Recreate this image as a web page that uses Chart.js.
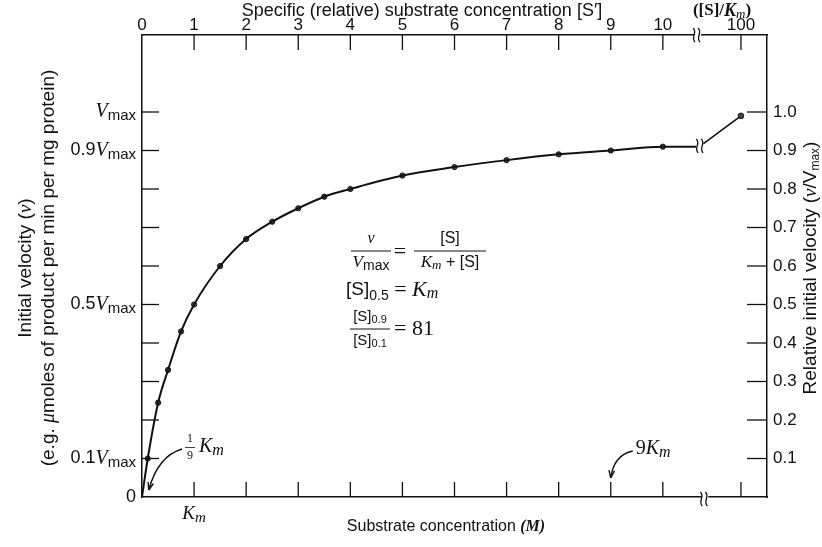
<!DOCTYPE html>
<html>
<head>
<meta charset="utf-8">
<script src="https://cdn.jsdelivr.net/npm/chart.js@4.4.1/dist/chart.umd.min.js"></script>
<style>
  body { margin: 0; background: #fff; }
  #wrap { width: 822px; height: 547px; }
</style>
</head>
<body>
<div id="wrap"><canvas id="chart" width="822" height="547"></canvas></div>
<script>
// measured points: specific substrate concentration [S]/Km vs v/Vmax
const sConc = [0.11, 0.31, 0.5, 0.75, 1, 1.5, 2, 2.5, 3, 3.5, 4, 5, 6, 7, 8, 9, 10];
const relVel = [0.10, 0.245, 0.33, 0.43, 0.50, 0.60, 0.67, 0.715, 0.75, 0.78, 0.80, 0.835, 0.857, 0.875, 0.89, 0.90, 0.91];
const farConc = [100];
const farVel = [0.99];

const topTickValues = [0, 1, 2, 3, 4, 5, 6, 7, 8, 9, 10, 100];
const topTickLabels = ['0', '1', '2', '3', '4', '5', '6', '7', '8', '9', '10', '100'];
const rightTickValues = [0.1, 0.2, 0.3, 0.4, 0.5, 0.6, 0.7, 0.8, 0.9, 1.0];
const rightTickLabels = ['0.1', '0.2', '0.3', '0.4', '0.5', '0.6', '0.7', '0.8', '0.9', '1.0'];
const leftLabelValues = [0, 0.1, 0.5, 0.9, 1.0];
const leftLabelCoefs = ['0', '0.1', '0.5', '0.9', ''];

// broken axis: everything past the break sits at 11.5
const axisPos = s => (s > 10.5 ? 11.5 : s);

const SANS = '"Liberation Sans", Arial, sans-serif';
const SERIF = '"Liberation Serif", "DejaVu Serif", serif';
const INK = '#111';

const curvePts = [{ x: 0, y: 0 }].concat(sConc.map((s, i) => ({ x: axisPos(s), y: relVel[i] })));
curvePts.push({ x: 10.64, y: relVel[relVel.length - 1] });
const markerPts = sConc.map((s, i) => ({ x: axisPos(s), y: relVel[i] }));
const tailPts = [{ x: 10.78, y: 0.918 }].concat(farConc.map((s, i) => ({ x: axisPos(s), y: farVel[i] })));

function rich(ctx, parts, x, y, align) {
  let w = 0;
  parts.forEach(p => { ctx.font = p[1]; w += ctx.measureText(p[0]).width; });
  let cx = align === 'right' ? x - w : align === 'center' ? x - w / 2 : x;
  ctx.textAlign = 'left';
  ctx.textBaseline = 'middle';
  parts.forEach(p => {
    ctx.font = p[1];
    ctx.fillText(p[0], cx, y + (p[2] || 0));
    cx += ctx.measureText(p[0]).width;
  });
  return w;
}

function breakMark(ctx, x, y, h) {
  // two little wavy strokes
  [0, 5].forEach(dx => {
    ctx.beginPath();
    ctx.moveTo(x + dx - 1, y - h / 2);
    ctx.bezierCurveTo(x + dx + 4, y - h / 6, x + dx - 4, y + h / 6, x + dx + 1, y + h / 2);
    ctx.stroke();
  });
}

function arrowHead(ctx, x, y, ang) {
  ctx.beginPath();
  ctx.moveTo(x, y);
  ctx.lineTo(x - 8 * Math.cos(ang - 0.35), y - 8 * Math.sin(ang - 0.35));
  ctx.moveTo(x, y);
  ctx.lineTo(x - 8 * Math.cos(ang + 0.35), y - 8 * Math.sin(ang + 0.35));
  ctx.stroke();
}

function fraction(ctx, top, bottom, cx, y, barW) {
  rich(ctx, top, cx, y - 12, 'center');
  rich(ctx, bottom, cx, y + 12, 'center');
  ctx.beginPath();
  ctx.moveTo(cx - barW / 2, y);
  ctx.lineTo(cx + barW / 2, y);
  ctx.stroke();
}

const decorations = {
  id: 'decorations',
  afterDraw(chart) {
    const ctx = chart.ctx;
    const xs = chart.scales.x, ys = chart.scales.y;
    const a = chart.chartArea;
    ctx.save();
    ctx.strokeStyle = INK;
    ctx.fillStyle = INK;
    ctx.lineWidth = 1.3;

    // inward ticks
    topTickValues.forEach(v => {
      if (v === 0) return;
      const px = xs.getPixelForValue(axisPos(v));
      ctx.beginPath(); ctx.moveTo(px, a.top); ctx.lineTo(px, a.top + 15); ctx.stroke();
      ctx.beginPath(); ctx.moveTo(px, a.bottom); ctx.lineTo(px, a.bottom - 15); ctx.stroke();
    });
    rightTickValues.forEach(v => {
      const py = ys.getPixelForValue(v);
      ctx.beginPath(); ctx.moveTo(a.left, py); ctx.lineTo(a.left + 17, py); ctx.stroke();
      ctx.beginPath(); ctx.moveTo(a.right, py); ctx.lineTo(a.right - 20, py); ctx.stroke();
    });

    // break marks on both axes and the curve
    ctx.fillStyle = '#fff';
    ctx.fillRect(xs.getPixelForValue(10.6), a.top - 2, 7, 4);
    ctx.fillRect(xs.getPixelForValue(10.74), a.bottom - 2, 7, 4);
    ctx.fillStyle = INK;
    breakMark(ctx, xs.getPixelForValue(10.6), a.top, 14);
    breakMark(ctx, xs.getPixelForValue(10.74), a.bottom + 2, 14);
    breakMark(ctx, xs.getPixelForValue(10.66), ys.getPixelForValue(0.912), 14);

    // top tick labels
    ctx.font = '17px ' + SANS;
    ctx.textAlign = 'center';
    ctx.textBaseline = 'middle';
    topTickValues.forEach((v, i) => {
      ctx.fillText(topTickLabels[i], xs.getPixelForValue(axisPos(v)), 25);
    });

    // right tick labels
    ctx.textAlign = 'left';
    rightTickValues.forEach((v, i) => {
      ctx.fillText(rightTickLabels[i], a.right + 6, ys.getPixelForValue(v));
    });

    // left tick labels with V_max
    leftLabelValues.forEach((v, i) => {
      const py = ys.getPixelForValue(v);
      const c = leftLabelCoefs[i];
      if (c === '0') {
        rich(ctx, [['0', '18px ' + SANS]], a.left - 6, py, 'right');
      } else {
        rich(ctx, [[c, '18px ' + SANS], ['V', 'italic 20px ' + SERIF], ['max', '15px ' + SANS, 4]], a.left - 6, py, 'right');
      }
    });

    // axis titles
    rich(ctx, [['Specific (relative) substrate concentration [S\u2032]', '18px ' + SANS]], 422, 11, 'center');
    rich(ctx, [['([S]/', 'bold 17px ' + SERIF], ['K', 'italic bold 18px ' + SERIF], ['m', 'italic 13px ' + SERIF, 4], [')', 'bold 17px ' + SERIF]], 722, 11, 'center');
    rich(ctx, [['Substrate concentration ', '16px ' + SANS], ['(M)', 'italic bold 16px ' + SERIF]], 446, 527, 'center');
    rich(ctx, [['K', 'italic 19px ' + SERIF], ['m', 'italic 15px ' + SERIF, 4]], xs.getPixelForValue(1), 514, 'center');

    ctx.save();
    ctx.translate(26, 268);
    ctx.rotate(-Math.PI / 2);
    rich(ctx, [['Initial velocity (', '19px ' + SANS], ['v', 'italic 19px ' + SERIF], [')', '19px ' + SANS]], 0, 0, 'center');
    rich(ctx, [['(e.g. ', '19px ' + SANS], ['\u03bc', 'italic 20px ' + SERIF], ['moles of product per min per mg protein)', '19px ' + SANS]], 0, 23, 'center');
    ctx.restore();

    ctx.save();
    ctx.translate(811, 268);
    ctx.rotate(-Math.PI / 2);
    rich(ctx, [['Relative initial velocity (', '19px ' + SANS], ['v', 'italic 19px ' + SERIF], ['/V', '19px ' + SANS], ['max', '12px ' + SANS, 5], [')', '19px ' + SANS]], 0, 0, 'center');
    ctx.restore();

    // equations
    ctx.lineWidth = 1;
    fraction(ctx, [['v', 'italic 16px ' + SERIF]], [['V', 'italic 17px ' + SERIF], ['max', '14px ' + SANS, 3]], 371, 251, 40);
    rich(ctx, [['=', '22px ' + SERIF]], 400, 252, 'center');
    fraction(ctx, [['[S]', '16px ' + SANS]], [['K', 'italic 17px ' + SERIF], ['m', 'italic 13px ' + SERIF, 3], [' + [S]', '16px ' + SANS]], 450, 251, 72);
    rich(ctx, [['[S]', '19px ' + SANS], ['0.5', '14px ' + SANS, 6], [' = ', '22px ' + SERIF], ['K', 'italic 22px ' + SERIF], ['m', 'italic 16px ' + SERIF, 4]], 346, 290, 'left');
    fraction(ctx, [['[S]', '15px ' + SANS], ['0.9', '11px ' + SANS, 3]], [['[S]', '15px ' + SANS], ['0.1', '11px ' + SANS, 3]], 370, 329, 40);
    rich(ctx, [['= 81', '22px ' + SERIF]], 394, 329, 'left');

    // annotations with arrows
    ctx.lineWidth = 1.4;
    ctx.font = '12px ' + SERIF;
    ctx.textAlign = 'center';
    ctx.fillText('1', 190, 439);
    ctx.fillText('9', 190, 456);
    ctx.beginPath(); ctx.moveTo(185, 447.5); ctx.lineTo(195, 447.5); ctx.lineWidth = 0.8; ctx.stroke();
    rich(ctx, [['K', 'italic 20px ' + SERIF], ['m', 'italic 16px ' + SERIF, 4]], 199, 447, 'left');
    ctx.lineWidth = 1.4;
    const ox = xs.getPixelForValue(0.11), oy = ys.getPixelForValue(0);
    ctx.beginPath();
    ctx.moveTo(182, 449);
    ctx.quadraticCurveTo(158, 456, ox + 1, oy - 7);
    ctx.stroke();
    arrowHead(ctx, ox + 1, oy - 7, Math.atan2(oy - 7 - 456, ox + 1 - 158));

    const nx = xs.getPixelForValue(9), ny = ys.getPixelForValue(0) - 19;
    rich(ctx, [['9', '20px ' + SERIF], ['K', 'italic 20px ' + SERIF], ['m', 'italic 16px ' + SERIF, 4]], nx + 25, 449, 'left');
    ctx.beginPath();
    ctx.moveTo(nx + 22, 451);
    ctx.quadraticCurveTo(nx + 3, 455, nx, ny);
    ctx.stroke();
    arrowHead(ctx, nx, ny, Math.atan2(ny - 455, nx - (nx + 3)));

    ctx.restore();
  }
};

const noScale = (size, horizontal) => ({
  type: 'linear',
  ticks: { display: false },
  grid: { display: false },
  border: { display: true, color: INK, width: 1.5 },
  afterFit(scale) { if (horizontal) scale.height = size; else scale.width = size; }
});

new Chart(document.getElementById('chart'), {
  type: 'line',
  data: {
    datasets: [
      {
        data: curvePts,
        borderColor: INK,
        borderWidth: 2,
        pointRadius: 0,
        cubicInterpolationMode: 'monotone',
        fill: false
      },
      {
        data: markerPts,
        showLine: false,
        pointRadius: 2.6,
        pointBackgroundColor: '#444',
        pointBorderColor: INK,
        pointBorderWidth: 1
      },
      {
        data: tailPts,
        borderColor: INK,
        borderWidth: 1.6,
        pointRadius: [0, 2.8],
        pointBackgroundColor: '#444',
        pointBorderColor: INK,
        pointBorderWidth: 1
      }
    ]
  },
  options: {
    responsive: false,
    animation: false,
    layout: { padding: 0 },
    plugins: { legend: { display: false }, tooltip: { enabled: false } },
    scales: {
      x: Object.assign(noScale(50, true), { position: 'bottom', min: 0, max: 12 }),
      x2: Object.assign(noScale(35, true), { position: 'top', min: 0, max: 12 }),
      y: Object.assign(noScale(142, false), { position: 'left', min: 0, max: 1.2 }),
      y2: Object.assign(noScale(55, false), { position: 'right', min: 0, max: 1.2 })
    }
  },
  plugins: [decorations]
});
</script>
</body>
</html>
